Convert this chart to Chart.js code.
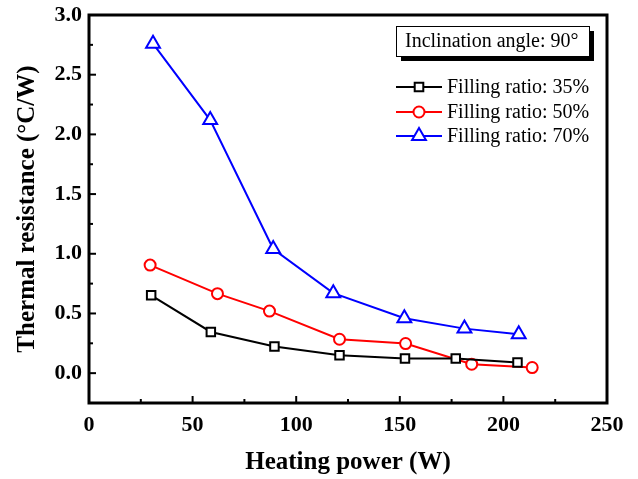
<!DOCTYPE html>
<html>
<head>
<meta charset="utf-8">
<script src="https://cdn.jsdelivr.net/npm/chart.js@4/dist/chart.umd.min.js"></script>
<style>
  html, body { margin: 0; padding: 0; background: #fff; }
  #wrap { width: 638px; height: 479px; }
</style>
</head>
<body>
<div id="wrap"><canvas id="grafica" width="638" height="479"></canvas></div>
<script>
// Datos
const potencia35 = [30, 58.8, 89.5, 120.9, 152.5, 177, 206.8];
const resistencia35 = [0.652, 0.345, 0.223, 0.15, 0.123, 0.123, 0.089];

const potencia50 = [29.5, 62, 87.1, 120.9, 152.8, 184.7, 213.9];
const resistencia50 = [0.905, 0.666, 0.52, 0.284, 0.248, 0.075, 0.047];

const potencia70 = [30.9, 58.5, 88.9, 117.9, 152.2, 181.2, 207.4];
const resistencia70 = [2.76, 2.12, 1.04, 0.67, 0.46, 0.373, 0.326];

const etiquetas = ['Filling ratio: 35%', 'Filling ratio: 50%', 'Filling ratio: 70%'];
const xTicks = [0, 50, 100, 150, 200, 250];
const yTicks = [0, 0.5, 1.0, 1.5, 2.0, 2.5, 3.0];
const notaAngulo = 'Inclination angle: 90°';

const serif = "'Liberation Serif', 'Times New Roman', serif";

function puntos(xs, ys) {
    return xs.map((x, i) => ({ x: x, y: ys[i] }));
}

// dibuja un marcador a mano (para la leyenda)
function marcador(ctx, tipo, x, y, color) {
    ctx.save();
    ctx.strokeStyle = color;
    ctx.fillStyle = '#fff';
    ctx.lineWidth = 2;
    ctx.beginPath();
    if (tipo === 'rect') {
        ctx.rect(x - 4.3, y - 4.3, 8.6, 8.6);
    } else if (tipo === 'circle') {
        ctx.arc(x, y, 5.5, 0, Math.PI * 2);
    } else {
        const r = 8;
        ctx.moveTo(x, y - r);
        ctx.lineTo(x + r * 0.866, y + r / 2);
        ctx.lineTo(x - r * 0.866, y + r / 2);
        ctx.closePath();
    }
    ctx.fill();
    ctx.stroke();
    ctx.restore();
}

// Marco, marcas hacia adentro y leyenda
const marcoPlugin = {
    id: 'marco',
    afterDraw(chart) {
        const ctx = chart.ctx;
        const a = chart.chartArea;
        const sx = chart.scales.x;
        const sy = chart.scales.y;

        ctx.save();
        ctx.strokeStyle = '#000';
        ctx.lineWidth = 2;
        // marcas eje x (mayores cada 50, menores cada 25)
        for (let v = sx.min; v <= sx.max; v += 25) {
            const px = sx.getPixelForValue(v);
            const largo = (v % 50 === 0) ? 7 : 4;
            ctx.beginPath();
            ctx.moveTo(px, a.bottom);
            ctx.lineTo(px, a.bottom - largo);
            ctx.stroke();
        }
        // marcas eje y (mayores cada 0.5, menores cada 0.25)
        for (let i = 0; i <= 13; i++) {
            const v = -0.25 + i * 0.25;
            const py = sy.getPixelForValue(v);
            const mayor = Math.abs((v / 0.5) - Math.round(v / 0.5)) < 1e-6;
            const largo = mayor ? 7 : 4;
            ctx.beginPath();
            ctx.moveTo(a.left, py);
            ctx.lineTo(a.left + largo, py);
            ctx.stroke();
        }
        // marco completo
        ctx.lineWidth = 3;
        ctx.strokeRect(a.left, a.top, a.right - a.left, a.bottom - a.top);

        // cuadro del ángulo con sombra
        const bx = 396, by = 26, bw = 193, bh = 30;
        ctx.fillStyle = '#000';
        ctx.fillRect(bx + 5, by + 5, bw, bh);
        ctx.fillStyle = '#fff';
        ctx.fillRect(bx, by, bw, bh);
        ctx.lineWidth = 1;
        ctx.strokeStyle = '#000';
        ctx.strokeRect(bx + 0.5, by + 0.5, bw, bh);
        ctx.fillStyle = '#000';
        ctx.font = '20px ' + serif;
        ctx.textBaseline = 'middle';
        ctx.textAlign = 'left';
        ctx.fillText(notaAngulo, bx + 9, by + bh / 2 + 1);

        // leyenda
        const filas = [87, 112, 136];
        chart.data.datasets.forEach((ds, i) => {
            const y = filas[i];
            ctx.strokeStyle = ds.borderColor;
            ctx.lineWidth = 2;
            ctx.beginPath();
            ctx.moveTo(396, y);
            ctx.lineTo(442, y);
            ctx.stroke();
            marcador(ctx, ds.pointStyle, 419, y, ds.borderColor);
            ctx.fillStyle = '#000';
            ctx.font = '20px ' + serif;
            ctx.fillText(ds.label, 447, y + 1);
        });
        ctx.restore();
    }
};

const ctx = document.getElementById('grafica');

new Chart(ctx, {
    type: 'line',
    data: {
        datasets: [
            {
                label: etiquetas[0],
                data: puntos(potencia35, resistencia35),
                borderColor: '#000000',
                pointStyle: 'rect',
                pointRadius: 6,
                pointBackgroundColor: '#fff'
            },
            {
                label: etiquetas[1],
                data: puntos(potencia50, resistencia50),
                borderColor: '#ff0000',
                pointStyle: 'circle',
                pointRadius: 5.5,
                pointBackgroundColor: '#fff'
            },
            {
                label: etiquetas[2],
                data: puntos(potencia70, resistencia70),
                borderColor: '#0000ff',
                pointStyle: 'triangle',
                pointRadius: 8,
                pointBackgroundColor: '#fff'
            }
        ]
    },
    options: {
        responsive: false,
        animation: false,
        layout: { padding: { top: 15, right: 31, left: 0, bottom: 0 } },
        elements: {
            line: { borderWidth: 2, tension: 0 },
            point: { borderWidth: 2, hoverRadius: 6 }
        },
        plugins: {
            legend: { display: false },
            tooltip: { enabled: false }
        },
        scales: {
            x: {
                type: 'linear',
                min: 0,
                max: 250,
                afterBuildTicks: (s) => { s.ticks = xTicks.map(v => ({ value: v })); },
                afterFit: (s) => { s.height = 76; s.paddingLeft = 0; s.paddingRight = 0; },
                grid: { display: false, drawTicks: false },
                border: { display: false },
                ticks: {
                    color: '#000',
                    padding: 9,
                    maxRotation: 0,
                    font: { family: serif, size: 22, weight: 'bold' }
                },
                title: {
                    display: true,
                    text: 'Heating power (W)',
                    color: '#000',
                    padding: { top: 0, bottom: 1 },
                    font: { family: serif, size: 25, weight: 'bold' }
                }
            },
            y: {
                type: 'linear',
                min: -0.25,
                max: 3.0,
                afterBuildTicks: (s) => { s.ticks = yTicks.map(v => ({ value: v })); },
                afterFit: (s) => { s.width = 89; s.paddingTop = 0; s.paddingBottom = 0; },
                grid: { display: false, drawTicks: false },
                border: { display: false },
                ticks: {
                    color: '#000',
                    padding: 7,
                    font: { family: serif, size: 22, weight: 'bold' },
                    callback: (v) => Number(v).toFixed(1)
                },
                title: {
                    display: true,
                    text: 'Thermal resistance (°C/W)',
                    color: '#000',
                    padding: { top: 13, bottom: 0 },
                    font: { family: serif, size: 25, weight: 'bold' }
                }
            }
        }
    },
    plugins: [marcoPlugin]
});
</script>
</body>
</html>
